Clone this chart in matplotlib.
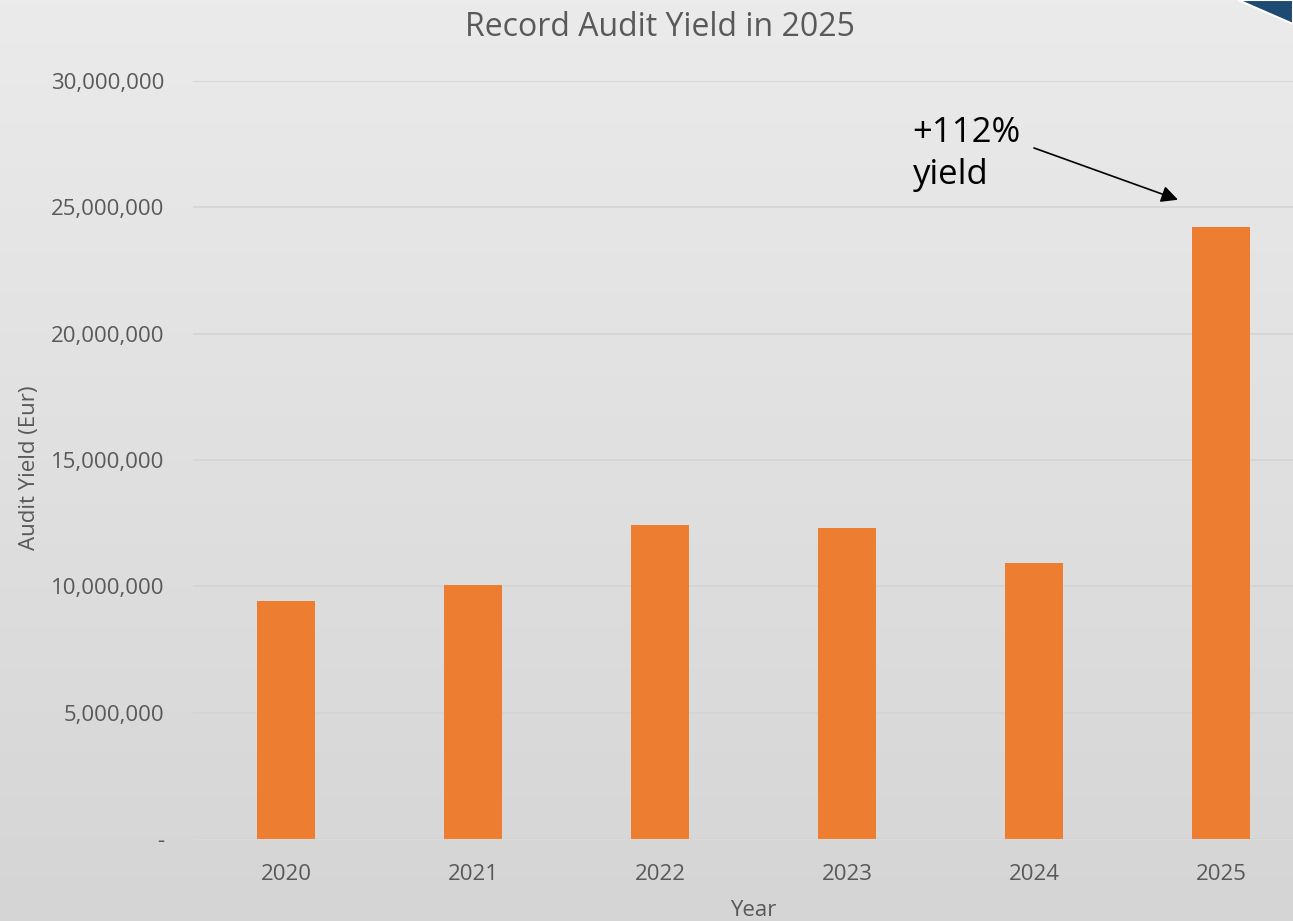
import numpy as np
import matplotlib
matplotlib.use('Agg')
import matplotlib.pyplot as plt
from matplotlib.patches import Polygon
from matplotlib.ticker import FuncFormatter

years = ['2020', '2021', '2022', '2023', '2024', '2025']
audit_yield = [9420000, 10050000, 12430000, 12310000, 10920000, 24220000]

plt.rcParams['font.family'] = ['Open Sans', 'DejaVu Sans']
txt_grey = '#595959'

fig = plt.figure(figsize=(12.93, 9.21), dpi=100)

# gradient background over the whole figure
bg = fig.add_axes([0, 0, 1, 1], zorder=-10)
grad = np.linspace(0, 1, 256).reshape(-1, 1)
bg.imshow(grad, aspect='auto', cmap=matplotlib.colors.LinearSegmentedColormap.from_list(
    'bg', ['#EBEBEB', '#D5D5D5']), extent=[0, 1, 0, 1], origin='upper')
bg.set_axis_off()

# dark blue corner shape (top right)
fig.patches.append(Polygon([[1238 / 1293, 1.0], [1.0, 1.0], [1.0, 1 - 24 / 921]],
                           closed=True, transform=fig.transFigure,
                           facecolor='#1C4A72', edgecolor='white', lw=1.5, zorder=5))

ax = fig.add_axes([192.5 / 1293, 1 - 839 / 921, 1122 / 1293, 758 / 921])
ax.patch.set_alpha(0)

x = np.arange(len(years))
ax.bar(x, audit_yield, width=0.31, color='#ED7D31', zorder=3)

ax.set_xlim(-0.5, len(years) - 0.5)
ax.set_ylim(0, 30000000)
ax.set_yticks(np.arange(0, 30000001, 5000000))
ax.yaxis.set_major_formatter(FuncFormatter(lambda v, p: '-' if v == 0 else f'{v:,.0f}'))
ax.set_xticks(x)
ax.set_xticklabels(years)

ax.grid(axis='y', color='#D4D4D4', lw=1.2, zorder=0)
for s in ['top', 'right', 'left']:
    ax.spines[s].set_visible(False)
ax.spines['bottom'].set_color('#D9D9D9')
ax.tick_params(axis='both', length=0, labelsize=16, colors=txt_grey)
ax.tick_params(axis='y', pad=20)
ax.tick_params(axis='x', pad=18)

ax.set_ylabel('Audit Yield (Eur)', fontsize=16, color=txt_grey)
ax.yaxis.set_label_coords(-0.136, 0.49)
ax.set_xlabel('Year', fontsize=16, color=txt_grey, labelpad=11)
fig.text(660 / 1293, 1 - 28 / 921, 'Record Audit Yield in 2025', ha='center', va='center',
         fontsize=23, color=txt_grey)

# annotation
ax.annotate('', xy=(4.77, 25.3e6), xytext=(4.0, 27.35e6),
            arrowprops=dict(arrowstyle='-|>', color='black', lw=1.2,
                            mutation_scale=25, shrinkA=0, shrinkB=0))
ax.text(3.35, 27.1e6, '+112%\nyield', ha='left', va='center', fontsize=25,
        color='black', linespacing=1.3)

fig.savefig('out.png', dpi=100)
